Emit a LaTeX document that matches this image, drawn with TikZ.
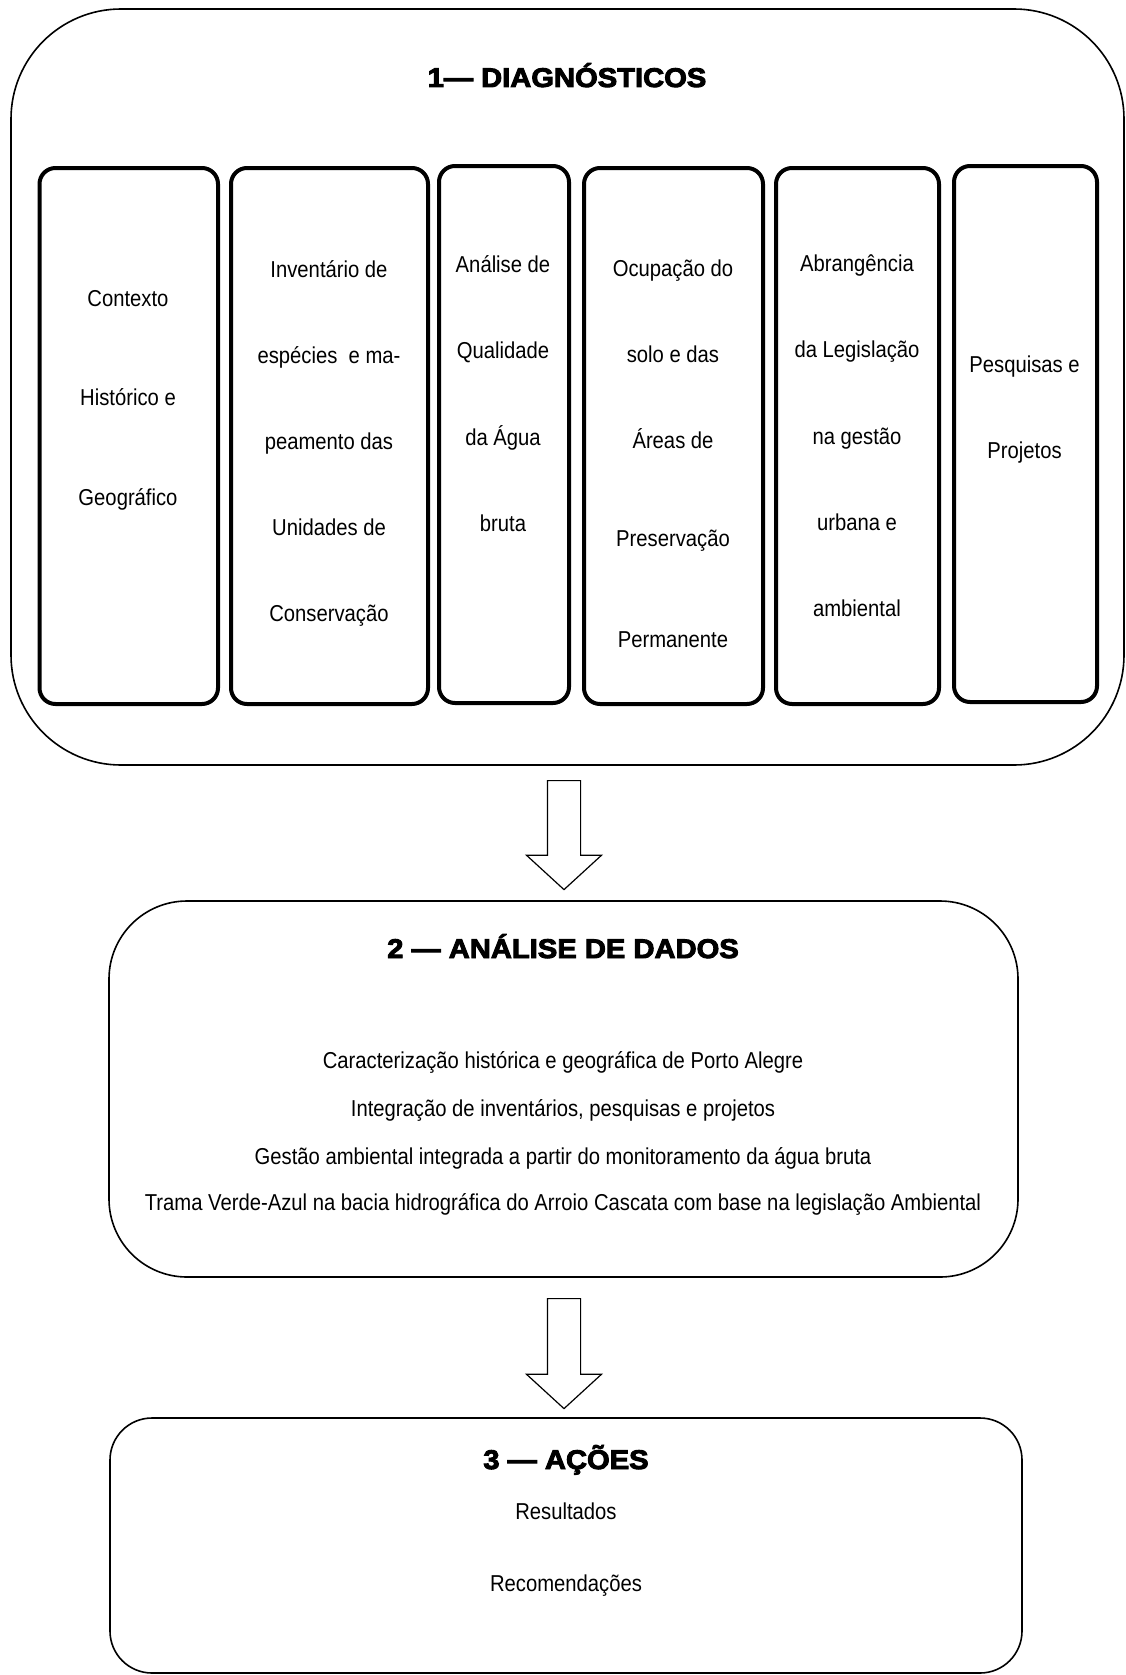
\documentclass[tikz,border=0pt]{standalone}
\usepackage{fontspec}
\setmainfont{Liberation Sans}[FakeStretch=0.88]
\newfontfamily\titlefont{Liberation Sans Bold}[FakeStretch=1.08,FakeBold=3.5]
\usetikzlibrary{shapes.arrows}
\begin{document}
\begin{tikzpicture}[x=1pt,y=-1pt,
  outer/.style={draw, line width=1.6pt, rectangle, inner sep=0pt},
  ibox/.style={draw, line width=4pt, rectangle, rounded corners=16pt, inner sep=0pt, minimum height=536pt},
  txt/.style={anchor=base, font=\fontsize{23}{27}\selectfont, inner sep=0pt},
  ttl/.style={anchor=base, font=\titlefont\fontsize{27}{32}\selectfont, inner sep=0pt},
  blk/.style={draw, line width=1.2pt, single arrow, rotate=-90, minimum width=74pt,
    single arrow head extend=21pt, single arrow tip angle=95, inner xsep=0pt, inner ysep=16pt}]
\useasboundingbox (0,0) rectangle (1125,1675);
\fill[white] (0,0) rectangle (1125,1675);

% section 1
\node[outer, rounded corners=110pt, minimum width=1113pt, minimum height=756pt] (diag) at (567.5,387) {};
\node[ttl] (t1) at (567,87) {1— DIAGNÓSTICOS};

\node[ibox, minimum width=178.5pt] (b1) at (128.75,436) {};
\node[ibox, minimum width=197pt] (b2) at (329.5,436) {};
\node[ibox, minimum width=130pt, minimum height=537pt] (b3) at (504,434.5) {};
\node[ibox, minimum width=179pt] (b4) at (673.5,436) {};
\node[ibox, minimum width=163pt] (b5) at (857.5,436) {};
\node[ibox, minimum width=143pt] (b6) at (1025.5,434) {};

\node[txt] (b1l1) at (128,306) {Contexto};
\node[txt] (b1l2) at (128,405.5) {Histórico e};
\node[txt] (b1l3) at (128,505) {Geográfico};

\node[txt] (b2l1) at (329,277) {Inventário de};
\node[txt] (b2l2) at (329,363) {espécies\ \ e ma-};
\node[txt] (b2l3) at (329,449) {peamento das};
\node[txt] (b2l4) at (329,535) {Unidades de};
\node[txt] (b2l5) at (329,621) {Conservação};

\node[txt] (b3l1) at (503,272) {Análise de};
\node[txt] (b3l2) at (503,358.5) {Qualidade};
\node[txt] (b3l3) at (503,445) {da Água};
\node[txt] (b3l4) at (503,531.5) {bruta};

\node[txt] (b4l1) at (673,276) {Ocupação do};
\node[txt] (b4l2) at (673,362) {solo e das};
\node[txt] (b4l3) at (673,448) {Áreas de};
\node[txt] (b4l4) at (673,546.5) {Preservação};
\node[txt] (b4l5) at (673,647) {Permanente};

\node[txt] (b5l1) at (857,271) {Abrangência};
\node[txt] (b5l2) at (857,357) {da Legislação};
\node[txt] (b5l3) at (857,444) {na gestão};
\node[txt] (b5l4) at (857,530.5) {urbana e};
\node[txt] (b5l5) at (857,616) {ambiental};

\node[txt] (b6l1) at (1024.5,372) {Pesquisas e};
\node[txt] (b6l2) at (1024.5,458) {Projetos};

% arrow 1
\node[blk, minimum height=109pt] (a1) at (564,827.5) {};

% section 2
\node[outer, rounded corners=78pt, minimum width=909pt, minimum height=376pt] (anal) at (563.5,1089) {};
\node[ttl] (t2) at (563,958) {2 — ANÁLISE DE DADOS};
\node[txt] (l1) at (563,1068) {Caracterização histórica e geográfica de Porto Alegre};
\node[txt] (l2) at (563,1116) {Integração de inventários, pesquisas e projetos};
\node[txt] (l3) at (563,1164) {Gestão ambiental integrada a partir do monitoramento da água bruta};
\node[txt] (l4) at (563,1210) {Trama Verde-Azul na bacia hidrográfica do Arroio Cascata com base na legislação Ambiental};

% arrow 2
\node[blk, minimum height=110pt] (a2) at (564,1346) {};

% section 3
\node[outer, rounded corners=42pt, minimum width=912pt, minimum height=255pt] (acoes) at (566,1545.5) {};
\node[ttl] (t3) at (566,1469) {3 — AÇÕES};
\node[txt] (r1) at (566,1519) {Resultados};
\node[txt] (r2) at (566,1591) {Recomendações};
\end{tikzpicture}
\end{document}
